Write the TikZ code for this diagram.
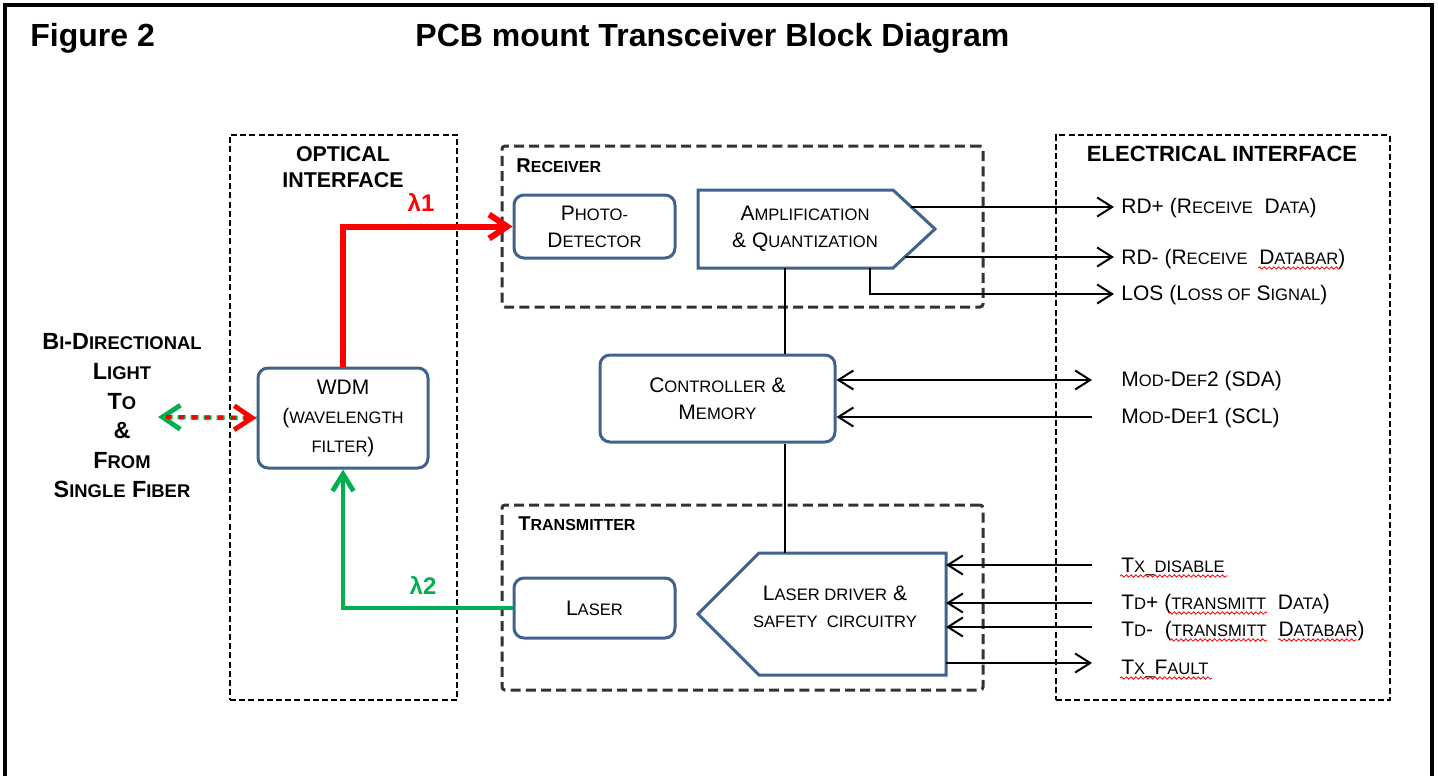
\documentclass[tikz,border=0pt]{standalone}
\usepackage{fontspec}
\setmainfont{Liberation Sans}
\usetikzlibrary{arrows.meta,decorations.pathmorphing}
\definecolor{boxblue}{RGB}{65,98,140}
\definecolor{ogreen}{RGB}{0,176,80}
\newcommand\sk[1]{{\fontsize{8.3pt}{10pt}\selectfont #1}}
\newcommand\skb[1]{{\fontsize{8pt}{10pt}\selectfont #1}}
\newcommand\skl[1]{{\fontsize{9.2pt}{11pt}\selectfont #1}}
\begin{document}
\begin{tikzpicture}[x=0.5pt,y=-0.5pt,
  every node/.style={inner sep=0pt},
  lbl/.style={font=\fontsize{10.5pt}{13.5pt}\selectfont, align=center},
  blk/.style={draw=boxblue, line width=1.5pt, rounded corners=5pt, fill=white, lbl},
  pent/.style={draw=boxblue, line width=1.5pt, fill=white, line join=miter},
  ifbox/.style={draw=black, line width=1pt, dash pattern=on 3pt off 1.6pt},
  secbox/.style={draw=black!80, line width=1.5pt, dash pattern=on 5pt off 2.6pt, rounded corners=1.5pt},
  sig/.style={draw=black, line width=1pt},
  tipb/.style={-{Straight Barb[length=7.5pt,width=9.5pt,line width=1pt]}},
  bitip/.style={{Straight Barb[length=7.5pt,width=9.5pt,line width=1pt]}-{Straight Barb[length=7.5pt,width=9.5pt,line width=1pt]}},
  rlbl/.style={lbl, anchor=base west},
  secttl/.style={font=\bfseries\fontsize{10.7pt}{13pt}\selectfont, align=center},
  spell/.style={draw=red, line width=0.4pt, decorate, decoration={snake, amplitude=0.6pt, segment length=2.4pt}}
]
\useasboundingbox (0,0) rectangle (1438,776);
\draw[line width=2pt] (5,776) -- (5,5) -- (1432,5) -- (1432,776);

% titles
\node[anchor=base west, font=\bfseries\fontsize{16pt}{19pt}\selectfont] (fig) at (30,46) {Figure 2};
\node[anchor=base west, font=\bfseries\fontsize{16pt}{19pt}\selectfont] (title) at (415,46) {PCB mount Transceiver Block Diagram};

% section boxes
\node[ifbox, minimum width=113.5pt, minimum height=282.5pt] (optif) at (343.5,417.5) {};
\node[ifbox, minimum width=167pt, minimum height=282.5pt] (elif) at (1223,417.5) {};
\node[secbox, minimum width=240.5pt, minimum height=80.5pt] (rx) at (742.5,226.5) {};
\node[secbox, minimum width=240.5pt, minimum height=92.5pt] (tx) at (742.5,597.5) {};

\node[secttl] (optlbl) at (343,167) {OPTICAL\\INTERFACE};
\node[secttl, font=\bfseries\fontsize{11pt}{13pt}\selectfont] (ellbl) at (1222,154) {ELECTRICAL INTERFACE};
\node[anchor=west, font=\bfseries\fontsize{10pt}{12pt}\selectfont] (rxlbl) at (516,166) {R\skb{ECEIVER}};
\node[anchor=west, font=\bfseries\fontsize{10pt}{12pt}\selectfont] (txlbl) at (518,524) {T\skb{RANSMITTER}};

% left text
\node[font=\bfseries\fontsize{11.7pt}{14.8pt}\selectfont, align=center] (fiber) at (122,416)
  {B\skl{I}-D\skl{IRECTIONAL}\\L\skl{IGHT}\\T\skl{O}\\\&\\F\skl{ROM}\\S\skl{INGLE} F\skl{IBER}};

% blocks
\node[blk, minimum width=80.5pt, minimum height=31.5pt] (pd) at (594.5,226.5) {P\sk{HOTO-}\\D\sk{ETECTOR}};
\node[blk, minimum width=117.5pt, minimum height=43.5pt] (ctrl) at (717.5,398.5) {C\sk{ONTROLLER} \&\\M\sk{EMORY}};
\node[blk, minimum width=85pt, minimum height=50pt, font=\fontsize{10.5pt}{14.5pt}\selectfont] (wdm) at (343,418) {WDM\\(\sk{WAVELENGTH}\\\sk{FILTER})};
\node[blk, minimum width=80.5pt, minimum height=30pt] (laser) at (594.5,608) {L\sk{ASER}};

\coordinate (a1) at (698,190); \coordinate (a2) at (893,190); \coordinate (a3) at (935,229);
\coordinate (a4) at (893,268); \coordinate (a5) at (698,268);
\draw[pent] (a1) -- (a2) -- (a3) -- (a4) -- (a5) -- cycle;
\node[lbl] (amp) at (805,229) {A\sk{MPLIFICATION}\\\& Q\sk{UANTIZATION}};

\coordinate (d1) at (946,553); \coordinate (d2) at (759,553); \coordinate (d3) at (698,614);
\coordinate (d4) at (759,675); \coordinate (d5) at (946,675);
\draw[pent] (d1) -- (d2) -- (d3) -- (d4) -- (d5) -- cycle;
\node[lbl] (drv) at (835,607) {L\sk{ASER DRIVER} \&\\\sk{SAFETY\ \ CIRCUITRY}};

% internal links
\coordinate (ampb) at (785,268);
\draw[sig] (ampb) -- (ampb |- ctrl.north);
\coordinate (drvt) at (785,553);
\draw[sig] (ctrl.south -| drvt) -- (drvt);

% right labels
\node[rlbl] (lrdp) at (1121,213) {RD+ (R\sk{ECEIVE}\ \ D\sk{ATA})};
\node[rlbl] (lrdm) at (1121,264) {RD- (R\sk{ECEIVE}\ \ D\sk{ATABAR})};
\node[rlbl] (llos) at (1121,300) {LOS (L\sk{OSS OF} S\sk{IGNAL})};
\node[rlbl] (lmd2) at (1121,386) {M\sk{OD}-D\sk{EF}2 (SDA)};
\node[rlbl] (lmd1) at (1121,423) {M\sk{OD}-D\sk{EF}1 (SCL)};
\node[rlbl] (ltxd) at (1121,572) {T\sk{X\_DISABLE}};
\node[rlbl] (ltdp) at (1121,609) {T\sk{D}+ (\sk{TRANSMITT}\ \ D\sk{ATA})};
\node[rlbl] (ltdm) at (1121,636) {T\sk{D}-\ \ (\sk{TRANSMITT}\ \ D\sk{ATABAR})};
\node[rlbl] (ltxf) at (1121,674) {T\sk{X\_}F\sk{AULT}};

% spelling marks
\draw[spell] (1258,268) -- (1341,268);
\draw[spell] (1120,576) -- (1228,576);
\draw[spell] (1168,613) -- (1267,613);
\draw[spell] (1170,640) -- (1267,640);
\draw[spell] (1278,640) -- (1357,640);
\draw[spell] (1120,678) -- (1212,678);

% outputs of amplifier
\coordinate (rdp) at (911,207); \coordinate (rdm) at (905,257); \coordinate (los) at (870,268);
\coordinate (e1) at (1114,207); \coordinate (e2) at (1114,257); \coordinate (e3) at (1114,294);
\draw[sig,tipb] (rdp) -- (e1);
\draw[sig,tipb] (rdm) -- (e2);
\draw[sig,tipb] (los) |- (e3);

% controller
\coordinate (e4) at (1092,380); \coordinate (e5) at (1092,417);
\draw[sig,bitip] (ctrl.east |- e4) -- (e4);
\draw[sig,tipb] (e5) -- (ctrl.east |- e5);

% driver
\coordinate (e6) at (1092,565); \coordinate (e7) at (1092,603);
\coordinate (e8) at (1092,627); \coordinate (e9) at (1092,663);
\draw[sig,tipb] (e6) -- (d1 |- e6);
\draw[sig,tipb] (e7) -- (d1 |- e7);
\draw[sig,tipb] (e8) -- (d1 |- e8);
\draw[sig,tipb] (d1 |- e9) -- (e9);

% optical paths
\draw[red, line width=3pt, -{Straight Barb[length=9pt,width=12pt,line width=3pt]}] (wdm.north) |- (pd.west);
\draw[ogreen, line width=2.4pt, -{Straight Barb[length=8.5pt,width=10.5pt,line width=2.4pt]}] (laser.west) -| (wdm.south);
\node[red, font=\bfseries\fontsize{12pt}{13pt}\selectfont] (l1) at (421,202) {λ1};
\node[ogreen, font=\bfseries\fontsize{12pt}{13pt}\selectfont] (l2) at (423,585) {λ2};

\coordinate (fib) at (158,417);
\draw[ogreen, line width=2.2pt, dash pattern=on 4pt off 2.5pt, {Straight Barb[length=9pt,width=12pt,line width=2.4pt]}-] (fib) -- (wdm.west);
\draw[red, line width=2.2pt, dash pattern=on 2.5pt off 4pt, dash phase=2.5pt, -{Straight Barb[length=9pt,width=12pt,line width=2.4pt]}] (fib) -- (wdm.west);
\end{tikzpicture}
\end{document}
